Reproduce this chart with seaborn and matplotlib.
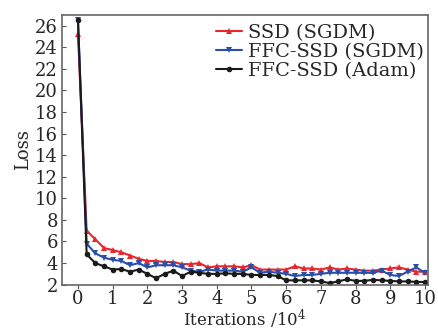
import seaborn as sns
import pandas as pd
import numpy as np
import matplotlib
matplotlib.use("Agg")
import matplotlib.pyplot as plt

iters = [0, 0.25, 0.5, 0.75, 1.0, 1.25, 1.5, 1.75, 2.0, 2.25, 2.5, 2.75,
         3.0, 3.25, 3.5, 3.75, 4.0, 4.25, 4.5, 4.75, 5.0, 5.25, 5.5, 5.75,
         6.0, 6.25, 6.5, 6.75, 7.0, 7.25, 7.5, 7.75, 8.0, 8.25, 8.5, 8.75,
         9.0, 9.25, 9.5, 9.75, 10.0]

ssd_sgdm = [25.2, 7.0, 6.2, 5.4, 5.2, 5.0, 4.7, 4.4, 4.2, 4.2, 4.1, 4.1,
            3.9, 3.9, 4.0, 3.6, 3.7, 3.7, 3.7, 3.6, 3.8, 3.4, 3.4, 3.4,
            3.4, 3.7, 3.5, 3.5, 3.4, 3.6, 3.4, 3.5, 3.4, 3.3, 3.3, 3.4,
            3.5, 3.6, 3.4, 3.2, 3.2]
ffc_sgdm = [26.5, 5.8, 4.9, 4.5, 4.3, 4.2, 3.8, 4.0, 3.6, 3.8, 3.8, 3.8,
            3.6, 3.3, 3.2, 3.4, 3.3, 3.3, 3.3, 3.2, 3.6, 3.1, 3.2, 3.1,
            3.0, 2.8, 2.9, 2.9, 3.0, 3.1, 3.1, 3.1, 3.1, 3.1, 3.1, 3.3,
            2.9, 2.8, 3.2, 3.6, 3.1]
ffc_adam = [26.5, 4.8, 4.0, 3.7, 3.4, 3.45, 3.2, 3.4, 3.0, 2.6, 3.0, 3.3,
            2.8, 3.2, 3.1, 3.0, 3.0, 3.05, 3.0, 3.0, 2.9, 2.9, 2.9, 2.8,
            2.4, 2.4, 2.4, 2.4, 2.3, 2.15, 2.3, 2.5, 2.35, 2.35, 2.45, 2.4,
            2.35, 2.3, 2.3, 2.25, 2.25]

names = ["SSD (SGDM)", "FFC-SSD (SGDM)", "FFC-SSD (Adam)"]
colors = ["#e8262d", "#2a4fa8", "#1a1a1a"]
markers = ["^", "v", "o"]

df = pd.DataFrame({
    "iter": iters * 3,
    "loss": ssd_sgdm + ffc_sgdm + ffc_adam,
    "model": [names[0]] * len(iters) + [names[1]] * len(iters) + [names[2]] * len(iters),
})

sns.set_style("ticks")
plt.rcParams["font.family"] = ["DejaVu Serif"]
plt.rcParams["mathtext.fontset"] = "dejavuserif"

fig = plt.figure(figsize=(4.38, 3.31), dpi=100)
ax = fig.add_axes([0.1416, 0.14, 0.835, 0.815])

sns.lineplot(data=df, x="iter", y="loss", hue="model", style="model",
             palette=colors, markers=markers, dashes=False, markersize=4,
             markeredgewidth=0, linewidth=1.5, ax=ax)

ax.set_xlim(-0.46, 10.08)
ax.set_ylim(2, 27)
ax.set_xticks(range(0, 11))
ax.set_yticks(range(2, 27, 2))
ax.tick_params(axis="y", direction="in", labelsize=13, length=3, pad=3, color="#555555")
ax.tick_params(axis="x", direction="out", labelsize=13, length=3, pad=1, color="#555555")
for s in ax.spines.values():
    s.set_color("#666666")
    s.set_linewidth(1.2)

ax.set_xlabel("Iterations /10$^4$", fontsize=12, labelpad=0)
ax.set_ylabel("Loss", fontsize=13, labelpad=2)

ax.legend(loc="upper right", bbox_to_anchor=(1.02, 1.01), frameon=False,
          fontsize=14, handlelength=1.3, labelspacing=0.05, handletextpad=0.3,
          borderaxespad=0.2)

fig.savefig("out.png", dpi=100)
